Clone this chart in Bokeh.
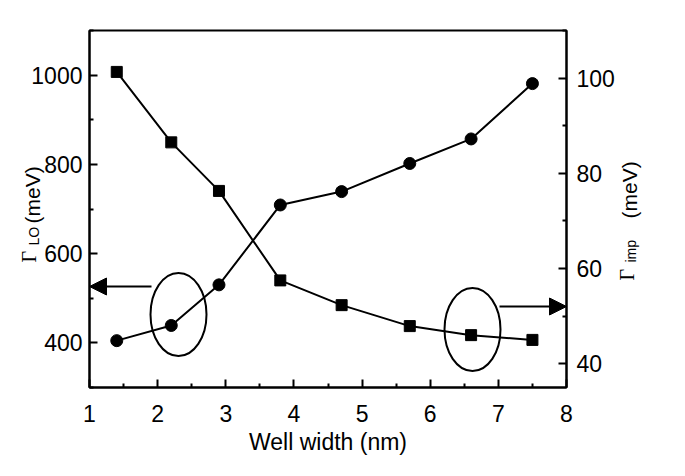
import numpy as np
from bokeh.plotting import figure
from bokeh.models import Range1d, LinearAxis, Label, Arrow, NormalHead, FixedTicker
from bokeh.layouts import row
from bokeh.embed import file_html
from bokeh.resources import INLINE

# ---- data ----
well_width = [1.4, 2.2, 2.9, 3.8, 4.7, 5.7, 6.6, 7.5]
gamma_lo = [405, 439, 530, 709, 739, 802, 857, 981]          # left axis, circles
gamma_imp = [101.3, 86.5, 76.3, 57.5, 52.3, 47.9, 46.0, 45.0]  # right axis, squares
x_ticks = [1, 2, 3, 4, 5, 6, 7, 8]
lo_ticks = [400, 600, 800, 1000]
imp_ticks = [40, 60, 80, 100]

X0, X1 = 1, 8
LO0, LO1 = 300, 1100
IMP0, IMP1 = 35, 110

# canvas pixel -> data helpers for annotations (frame: x 89..566, y 30..387)
FL, FR, FT, FB = 89, 566, 30, 387
def sx(px):
    return X0 + (px - FL) * (X1 - X0) / (FR - FL)
def sy(py):
    return LO0 + (FB - py) * (LO1 - LO0) / (FB - FT)
def dw(pw):
    return pw * (X1 - X0) / (FR - FL)
def dh(ph):
    return ph * (LO1 - LO0) / (FB - FT)

W, H = 669, 460
p = figure(width=W, height=H, x_range=Range1d(X0, X1), y_range=Range1d(LO0, LO1),
           output_backend="svg", toolbar_location=None,
           min_border_left=FL, min_border_right=W - FR,
           min_border_top=FT, min_border_bottom=H - FB)
p.extra_y_ranges = {"imp": Range1d(IMP0, IMP1)}
p.add_layout(LinearAxis(y_range_name="imp"), "right")

p.xgrid.visible = False
p.ygrid.visible = False
p.background_fill_color = "white"
p.border_fill_color = "white"
p.outline_line_color = "black"
p.outline_line_width = 2

def mids(t):
    t = np.asarray(t, dtype=float)
    return list((t[:-1] + t[1:]) / 2) + [t[0] - (t[1] - t[0]) / 2, t[-1] + (t[1] - t[0]) / 2]

tickers = {
    "x": FixedTicker(ticks=x_ticks, minor_ticks=mids(x_ticks)),
    "lo": FixedTicker(ticks=lo_ticks, minor_ticks=mids(lo_ticks)),
    "imp": FixedTicker(ticks=imp_ticks, minor_ticks=mids(imp_ticks)),
}

def style(ax, standoff):
    ax.axis_line_color = "black"
    ax.axis_line_width = 2
    ax.major_tick_line_color = "black"
    ax.major_tick_line_width = 2
    ax.minor_tick_line_color = "black"
    ax.minor_tick_line_width = 2
    ax.major_tick_in = 8
    ax.major_tick_out = 0
    ax.minor_tick_in = 4
    ax.minor_tick_out = 0
    ax.major_label_text_font = "Liberation Sans"
    ax.major_label_text_font_size = "23px"
    ax.major_label_text_color = "black"
    ax.major_label_standoff = standoff
    ax.axis_label_text_font = "Liberation Sans"
    ax.axis_label_text_font_size = "23px"
    ax.axis_label_text_font_style = "normal"
    ax.axis_label_text_color = "black"

xa = p.below[0]
style(xa, 17)
xa.ticker = tickers["x"]
xa.axis_label = "Well width (nm)"
xa.axis_label_standoff = 4

la = p.left[0]
style(la, 7)
la.ticker = tickers["lo"]

ra = p.right[0]
style(ra, 10)
ra.ticker = tickers["imp"]

# ---- data series ----
p.line(well_width, gamma_lo, line_color="black", line_width=2)
p.scatter(well_width, gamma_lo, marker="circle", size=12, fill_color="black", line_color="black")
p.line(well_width, gamma_imp, line_color="black", line_width=2, y_range_name="imp")
p.scatter(well_width, gamma_imp, marker="square", size=11, fill_color="black", line_color="black",
          y_range_name="imp")

# ---- annotations: ellipses and arrows ----
p.ellipse(x=[sx(178)], y=[sy(314)], width=dw(56), height=dh(83),
          fill_color=None, line_color="black", line_width=2)
p.ellipse(x=[sx(472)], y=[sy(329)], width=dw(56), height=dh(83),
          fill_color=None, line_color="black", line_width=2)
p.add_layout(Arrow(end=NormalHead(size=17, fill_color="black", line_color="black"),
                   x_start=sx(151), y_start=sy(286), x_end=X0, y_end=sy(286),
                   line_color="black", line_width=2))
p.add_layout(Arrow(end=NormalHead(size=17, fill_color="black", line_color="black"),
                   x_start=sx(499), y_start=sy(306), x_end=X1, y_end=sy(306),
                   line_color="black", line_width=2))

# ---- transparent overlay figure carrying the subscripted axis titles ----
t = figure(width=W, height=H, x_range=Range1d(0, W), y_range=Range1d(0, H),
           x_axis_type=None, y_axis_type=None, output_backend="svg",
           toolbar_location=None, min_border=0, title=None,
           margin=(0, 0, 0, -W))
t.outline_line_color = None
t.background_fill_color = None
t.border_fill_color = None

def lab(px, py, text, font, size):
    t.add_layout(Label(x=px, y=py, x_units="canvas", y_units="canvas", text=text,
                       angle=90, angle_units="deg",
                       text_font=font, text_font_size=size, text_color="black",
                       text_align="left", text_baseline="alphabetic"))

lab(28, 262, "Γ", "Liberation Serif", "20px")
lab(33, 245, "LO", "Liberation Sans", "14px")
lab(32, 223, "(meV)", "Liberation Sans", "21px")

lab(626.5, 280, "Γ", "Liberation Serif", "20px")
lab(630, 262, "imp", "Liberation Sans", "14px")
lab(628.5, 218, "(meV)", "Liberation Sans", "21px")

layout = row(p, t)
open("out.html", "w").write(file_html(layout, INLINE))
